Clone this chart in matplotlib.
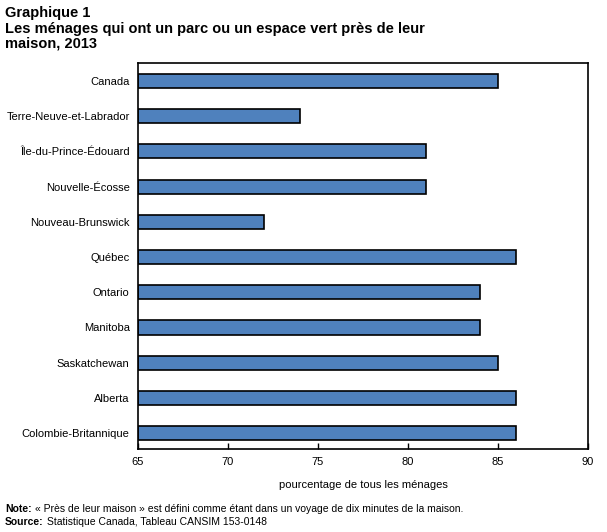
import matplotlib
matplotlib.use('Agg')
import matplotlib.pyplot as plt

plt.rcParams['font.family'] = ['Liberation Sans', 'DejaVu Sans']

# Data
provinces = ['Canada', 'Terre-Neuve-et-Labrador', 'Île-du-Prince-Édouard', 'Nouvelle-Écosse',
             'Nouveau-Brunswick', 'Québec', 'Ontario', 'Manitoba', 'Saskatchewan',
             'Alberta', 'Colombie-Britannique']
values = [85, 74, 81, 81, 72, 86, 84, 84, 85, 86, 86]
xticks = [65, 70, 75, 80, 85, 90]

fig = plt.figure(figsize=(6.07, 5.32), dpi=100)
ax = fig.add_axes([0.2273, 0.156, 0.7414, 0.7256])

ypos = list(range(len(provinces)))
ax.barh(ypos, [v - 65 for v in values], left=65, height=0.4,
        color='#4f81bd', edgecolor='black', linewidth=1.2)

ax.set_xlim(65, 90)
ax.set_ylim(len(provinces) - 0.55, -0.51)
ax.set_yticks(ypos)
ax.set_yticklabels(provinces, fontsize=8)
ax.set_xticks(xticks)
ax.set_xticklabels([str(t) for t in xticks], fontsize=8)
ax.tick_params(axis='x', direction='in', length=4, pad=6, width=1)
ax.tick_params(axis='y', length=0, pad=6)
for s in ax.spines.values():
    s.set_linewidth(1.2)
ax.set_xlabel('pourcentage de tous les ménages', fontsize=8, labelpad=9)

fig.text(0.008, 0.988, 'Graphique 1', fontsize=10.5, fontweight='bold', va='top')
fig.text(0.008, 0.959, 'Les ménages qui ont un parc ou un espace vert près de leur\nmaison, 2013',
         fontsize=10.5, fontweight='bold', va='top', linespacing=1.1)

fig.text(0.008, 0.043, 'Note:', fontsize=7.5, fontweight='bold', va='center')
fig.text(0.058, 0.043, '« Près de leur maison » est défini comme étant dans un voyage de dix minutes de la maison.',
         fontsize=7.5, va='center')
fig.text(0.008, 0.019, 'Source:', fontsize=7.5, fontweight='bold', va='center')
fig.text(0.077, 0.019, 'Statistique Canada, Tableau CANSIM 153-0148', fontsize=7.5, va='center')

fig.savefig('out.png', dpi=100)
